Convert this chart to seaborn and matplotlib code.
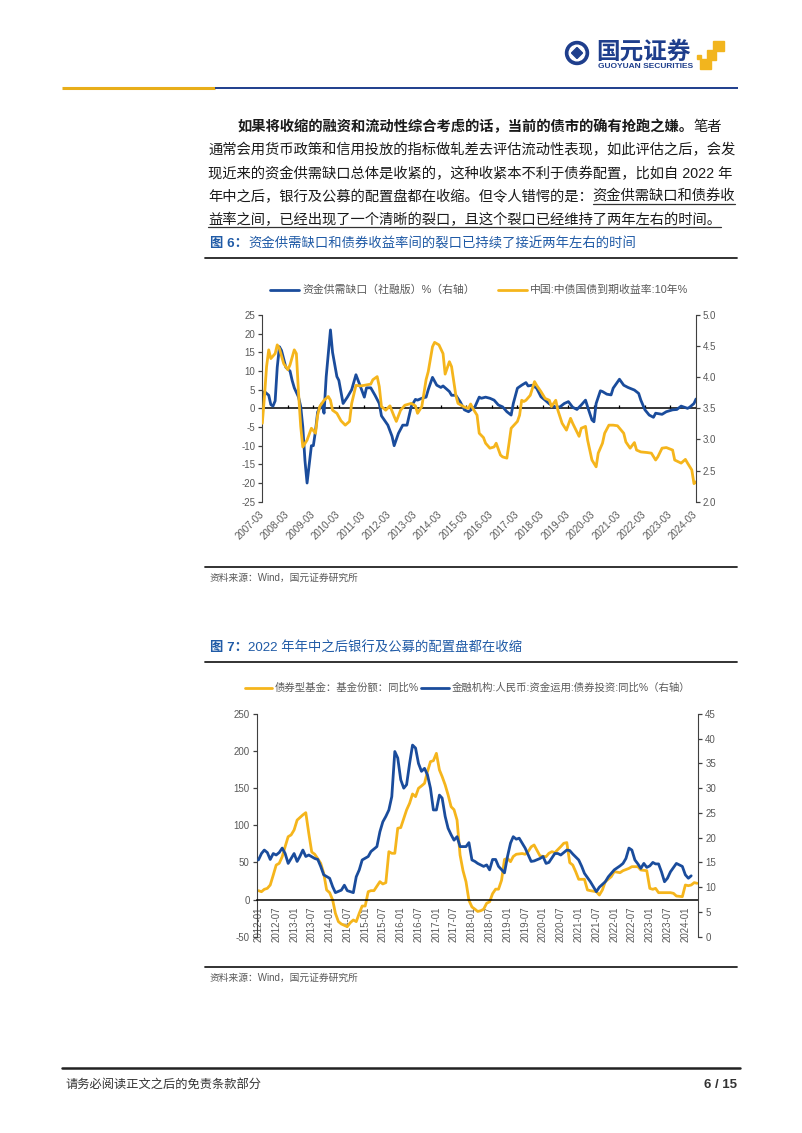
import numpy as np
import pandas as pd
import matplotlib
matplotlib.use('Agg')
import matplotlib.pyplot as plt
import seaborn as sns
from matplotlib.patches import Circle, Rectangle, Polygon

# =========================================
# DATA
# =========================================

# chart 1: funding gap (left axis) and 10y CGB yield (right axis)
gap_dates = [
    '2007-03', '2007-04', '2007-06', '2007-07', '2007-08', '2007-09', '2007-10', '2007-11', '2007-12',
    '2008-02', '2008-04', '2008-05', '2008-06', '2008-08', '2008-09', '2008-10', '2008-11', '2008-12',
    '2009-01', '2009-02', '2009-03', '2009-04', '2009-05', '2009-07', '2009-08', '2009-09', '2009-11',
    '2009-12', '2010-02', '2010-03', '2010-05', '2010-07', '2010-09', '2010-11', '2011-01', '2011-03',
    '2011-04', '2011-06', '2011-08', '2011-10', '2011-11', '2012-02', '2012-04', '2012-05', '2012-07',
    '2012-09', '2012-11', '2013-01', '2013-03', '2013-04', '2013-06', '2013-08', '2013-09', '2013-11',
    '2014-01', '2014-03', '2014-04', '2014-07', '2014-08', '2014-10', '2014-12', '2015-02', '2015-04',
    '2015-06', '2015-07', '2015-09', '2015-10', '2015-12', '2016-02', '2016-04', '2016-06', '2016-08',
    '2016-10', '2016-12', '2017-01', '2017-03', '2017-05', '2017-07', '2017-08', '2017-10', '2017-12',
    '2018-02', '2018-04', '2018-06', '2018-09', '2018-11', '2019-01', '2019-03', '2019-05', '2019-07',
    '2019-09', '2019-11', '2019-12', '2020-02', '2020-03', '2020-04', '2020-06', '2020-07', '2020-09',
    '2020-11', '2020-12', '2021-03', '2021-05', '2021-07', '2021-10', '2021-12', '2022-01', '2022-03',
    '2022-05', '2022-07', '2022-08', '2022-11', '2023-01', '2023-04', '2023-06', '2023-08', '2023-11',
    '2023-12', '2024-02', '2024-03',
]
gap_values = [
    3, 4.5, 3.5, 1, 0.6, 2, 11, 16.5, 15.5,
    11, 10, 7.5, 5.5, 3, 0.5, -5, -14, -20,
    -15, -10, -10, -6, -1, 1.3, -1.3, 8.5, 21,
    15, 8.5, 7.5, 1.3, 3, 5, 9, 6, 3,
    5.5, 5.5, 3.5, 1.3, -2, -4.5, -7.5, -10, -6.7,
    -4.5, -4.5, 0.5, 2.4, 2.2, 2.7, 3, 5, 8.3,
    6.2, 5.6, 6, 4.5, 3.5, 3.5, 1.8, -0.4, -0.9,
    0, 0.4, 3, 2.7, 3, 2.7, 2.2, 0.9, 0.4,
    -0.9, -1.8, 1.3, 5.4, 6.2, 6.9, 6, 6.2, 5.4,
    3.1, 2.2, 1.2, 0.3, 0.4, 1.3, 1.8, 0.3, -0.3,
    0.9, 2.2, 0.4, -3.1, -3.6, 1.3, 4.7, 4.5, 3.8,
    3.6, 5.4, 7.8, 6.2, 5.6, 4.9, 4, 2.2, -0.4,
    -1.8, -2.4, -1.3, -1.6, -0.9, -0.4, -0.3, 0.6, 0,
    0.3, 1.3, 2.5,
]

yield_dates = [
    '2007-03', '2007-04', '2007-05', '2007-06', '2007-07', '2007-09', '2007-10', '2007-11', '2008-01',
    '2008-03', '2008-04', '2008-06', '2008-07', '2008-08', '2008-09', '2008-10', '2008-12', '2009-02',
    '2009-04', '2009-05', '2009-06', '2009-08', '2009-10', '2009-11', '2009-12', '2010-02', '2010-04',
    '2010-06', '2010-08', '2010-09', '2010-11', '2011-01', '2011-03', '2011-06', '2011-07', '2011-09',
    '2011-10', '2011-11', '2012-01', '2012-03', '2012-05', '2012-06', '2012-08', '2012-10', '2013-01',
    '2013-03', '2013-04', '2013-06', '2013-08', '2013-09', '2013-11', '2013-12', '2014-02', '2014-04',
    '2014-05', '2014-07', '2014-08', '2014-10', '2014-11', '2015-02', '2015-04', '2015-05', '2015-06',
    '2015-08', '2015-09', '2015-11', '2015-12', '2016-02', '2016-04', '2016-05', '2016-07', '2016-08',
    '2016-10', '2016-11', '2016-12', '2017-03', '2017-04', '2017-05', '2017-06', '2017-07', '2017-09',
    '2017-11', '2017-12', '2018-02', '2018-04', '2018-06', '2018-07', '2018-09', '2018-10', '2018-12',
    '2019-02', '2019-04', '2019-05', '2019-08', '2019-09', '2019-11', '2019-12', '2020-02', '2020-04',
    '2020-05', '2020-07', '2020-08', '2020-10', '2020-12', '2021-02', '2021-05', '2021-06', '2021-08',
    '2021-10', '2021-11', '2022-01', '2022-04', '2022-06', '2022-08', '2022-09', '2022-11', '2023-01',
    '2023-04', '2023-05', '2023-08', '2023-10', '2023-11', '2024-01', '2024-02', '2024-03',
]
yield_values = [
    3.26, 3.69, 4.17, 4.44, 4.30, 4.38, 4.52, 4.46, 4.22,
    4.12, 4.20, 4.44, 4.38, 3.74, 3.21, 2.88, 2.99, 3.18,
    3.10, 3.39, 3.53, 3.63, 3.69, 3.63, 3.47, 3.42, 3.30,
    3.23, 3.29, 3.58, 3.87, 3.86, 3.87, 3.89, 3.96, 4.01,
    3.85, 3.53, 3.47, 3.54, 3.37, 3.29, 3.47, 3.55, 3.58,
    3.54, 3.42, 3.53, 3.96, 4.09, 4.49, 4.56, 4.52, 4.38,
    4.05, 4.25, 4.17, 3.71, 3.58, 3.52, 3.50, 3.57, 3.50,
    3.39, 3.10, 3.03, 2.94, 2.86, 2.88, 2.94, 2.75, 2.72,
    2.70, 2.94, 3.18, 3.29, 3.39, 3.63, 3.61, 3.63, 3.71,
    3.93, 3.87, 3.77, 3.66, 3.63, 3.53, 3.63, 3.47, 3.26,
    3.15, 3.34, 3.26, 3.05, 3.18, 3.21, 2.99, 2.67, 2.56,
    2.78, 2.94, 3.10, 3.23, 3.23, 3.22, 3.10, 2.96, 2.86,
    2.95, 2.83, 2.80, 2.79, 2.78, 2.67, 2.72, 2.86, 2.87,
    2.83, 2.67, 2.62, 2.68, 2.62, 2.51, 2.29, 2.32,
]

chart1_ticks = [
    '2007-03', '2008-03', '2009-03', '2010-03', '2011-03', '2012-03', '2013-03', '2014-03', '2015-03',
    '2016-03', '2017-03', '2018-03', '2019-03', '2020-03', '2021-03', '2022-03', '2023-03', '2024-03',
]

# chart 2: bond fund shares yoy (left axis) and bank bond investment yoy (right axis)
fund_dates = [
    '2012-01', '2012-02', '2012-03', '2012-04', '2012-05', '2012-06', '2012-07', '2012-08', '2012-09',
    '2012-10', '2012-11', '2012-12', '2013-01', '2013-02', '2013-04', '2013-05', '2013-06', '2013-07',
    '2013-08', '2013-09', '2013-10', '2013-11', '2013-12', '2014-01', '2014-02', '2014-03', '2014-04',
    '2014-05', '2014-07', '2014-08', '2014-09', '2014-10', '2014-11', '2014-12', '2015-01', '2015-02',
    '2015-03', '2015-04', '2015-06', '2015-07', '2015-08', '2015-09', '2015-10', '2015-11', '2015-12',
    '2016-01', '2016-03', '2016-04', '2016-05', '2016-06', '2016-07', '2016-08', '2016-09', '2016-10',
    '2016-11', '2016-12', '2017-01', '2017-02', '2017-03', '2017-04', '2017-05', '2017-06', '2017-07',
    '2017-08', '2017-09', '2017-10', '2017-11', '2017-12', '2018-01', '2018-02', '2018-03', '2018-04',
    '2018-05', '2018-06', '2018-07', '2018-08', '2018-09', '2018-10', '2018-11', '2018-12', '2019-01',
    '2019-02', '2019-03', '2019-04', '2019-06', '2019-07', '2019-08', '2019-09', '2019-10', '2019-12',
    '2020-02', '2020-03', '2020-04', '2020-05', '2020-07', '2020-08', '2020-09', '2020-10', '2020-11',
    '2020-12', '2021-01', '2021-03', '2021-04', '2021-05', '2021-07', '2021-08', '2021-09', '2021-10',
    '2021-12', '2022-01', '2022-03', '2022-04', '2022-06', '2022-07', '2022-09', '2022-10', '2022-12',
    '2023-01', '2023-02', '2023-03', '2023-04', '2023-06', '2023-08', '2023-09', '2023-10', '2023-12',
    '2024-01', '2024-02', '2024-03', '2024-04', '2024-05',
]
fund_values = [
    12, 10.6, 13.8, 15.1, 19.6, 33, 46.5, 48.8, 57.8,
    71.3, 84.7, 87, 93.7, 107, 114, 117, 89, 64,
    61, 55, 48.8, 35.4, 12.9, 9.3, -0.6, -18.5, -29.7,
    -32.9, -36.5, -31.1, -27.5, -29.7, -18.5, -8.7, -8.7, 10.6,
    12, 12, 24.1, 21, 22.8, 64.5, 62.3, 62.3, 96,
    96.9, 120.7, 129.7, 142.2, 138.6, 149.8, 153, 156.5, 172.2,
    185.7, 187, 196.9, 174.6, 165.6, 154.4, 141, 125, 121,
    107, 60, 39, 24, -1, -10, -13, -16, -15,
    -13, -5, -3, 8, 14, 14, 26, 54, 55.5,
    51, 58, 61, 62, 61, 64.5, 71, 73.5, 58.7,
    57.8, 62.3, 64.5, 63.2, 71.3, 75.8, 76.7, 49.7, 46.5,
    37.6, 27.3, 27.3, 12.9, 12, 10.6, 6.1, 12.9, 24.1,
    30.8, 37.6, 36.2, 38.9, 42, 44.3, 44.3, 39.8, 38.9,
    15.1, 13.8, 15.1, 9.3, 9.3, 9.3, 8.4, 4.8, 3.9,
    19.6, 18.7, 19.6, 22.8, 21.9,
]

bank_dates = [
    '2012-01', '2012-02', '2012-03', '2012-04', '2012-05', '2012-06', '2012-07', '2012-08', '2012-09',
    '2012-10', '2012-11', '2012-12', '2013-01', '2013-02', '2013-03', '2013-04', '2013-05', '2013-06',
    '2013-08', '2013-09', '2013-10', '2013-11', '2014-01', '2014-02', '2014-03', '2014-05', '2014-06',
    '2014-07', '2014-09', '2014-10', '2014-11', '2014-12', '2015-02', '2015-03', '2015-05', '2015-06',
    '2015-07', '2015-08', '2015-09', '2015-10', '2015-11', '2015-12', '2016-01', '2016-02', '2016-03',
    '2016-04', '2016-05', '2016-06', '2016-07', '2016-08', '2016-09', '2016-10', '2016-11', '2016-12',
    '2017-01', '2017-02', '2017-03', '2017-04', '2017-05', '2017-06', '2017-07', '2017-08', '2017-09',
    '2017-10', '2017-11', '2017-12', '2018-01', '2018-02', '2018-03', '2018-05', '2018-06', '2018-07',
    '2018-08', '2018-09', '2018-10', '2018-12', '2019-01', '2019-02', '2019-03', '2019-04', '2019-05',
    '2019-06', '2019-07', '2019-09', '2019-10', '2019-12', '2020-01', '2020-02', '2020-03', '2020-05',
    '2020-06', '2020-07', '2020-09', '2020-10', '2020-11', '2021-01', '2021-02', '2021-03', '2021-05',
    '2021-07', '2021-08', '2021-10', '2021-11', '2022-01', '2022-03', '2022-04', '2022-05', '2022-06',
    '2022-07', '2022-08', '2022-09', '2022-10', '2022-11', '2022-12', '2023-01', '2023-02', '2023-03',
    '2023-04', '2023-05', '2023-06', '2023-07', '2023-08', '2023-10', '2023-11', '2023-12', '2024-01',
    '2024-02', '2024-03',
]
bank_values = [
    15.5, 16.8, 17.5, 17.0, 15.6, 16.8, 16.5, 17.0, 17.9,
    16.8, 14.8, 15.8, 16.8, 15.2, 16.2, 17.5, 16.2, 16.5,
    15.8, 15.6, 14.2, 12.5, 11.8, 10.1, 8.9, 9.4, 10.4,
    9.3, 8.9, 12.1, 13.5, 15.5, 16.2, 17.2, 18.2, 21.2,
    23.2, 24.3, 25.6, 28.3, 37.4, 36.1, 31.7, 30.0, 30.7,
    35.0, 38.7, 38.1, 35.0, 33.4, 34.0, 32.7, 30.0, 25.6,
    25.6, 28.6, 28.0, 24.3, 21.9, 20.6, 19.5, 20.2, 18.2,
    18.2, 18.2, 19.0, 15.5, 15.2, 14.8, 14.2, 14.5, 13.5,
    15.6, 15.6, 14.2, 12.9, 16.2, 18.9, 20.2, 19.7, 19.9,
    18.9, 17.9, 15.2, 15.3, 15.8, 16.2, 14.8, 15.0, 16.8,
    16.8, 16.5, 17.5, 17.4, 16.7, 15.5, 14.2, 12.8, 11.1,
    9.1, 10.0, 11.1, 12.1, 13.5, 14.3, 14.8, 15.8, 17.9,
    17.5, 15.5, 14.7, 13.8, 14.8, 14.0, 14.3, 15.0, 14.7,
    14.7, 13.1, 11.1, 11.8, 13.1, 14.8, 14.5, 14.2, 12.5,
    11.8, 12.3,
]

chart2_ticks = [
    '2012-01', '2012-07', '2013-01', '2013-07', '2014-01', '2014-07', '2015-01', '2015-07', '2016-01',
    '2016-07', '2017-01', '2017-07', '2018-01', '2018-07', '2019-01', '2019-07', '2020-01', '2020-07',
    '2021-01', '2021-07', '2022-01', '2022-07', '2023-01', '2023-07', '2024-01',
]

# =========================================
# TEXT
# =========================================

para_lines = [
    '通常会用货币政策和信用投放的指标做轧差去评估流动性表现，如此评估之后，会发',
    '现近来的资金供需缺口总体是收紧的，这种收紧本不利于债券配置，比如自 2022 年',
]
para_bold = '如果将收缩的融资和流动性综合考虑的话，当前的债市的确有抢跑之嫌。'
para_tail = '笔者'
para_line4 = '年中之后，银行及公募的配置盘都在收缩。但令人错愕的是：'
para_line4_ul = '资金供需缺口和债券收'
para_line5 = '益率之间，已经出现了一个清晰的裂口，且这个裂口已经维持了两年左右的时间。'

title6 = '资金供需缺口和债券收益率间的裂口已持续了接近两年左右的时间'
title7 = '2022 年年中之后银行及公募的配置盘都在收缩'
legend1 = ['资金供需缺口（社融版）%（右轴）', '中国:中债国债到期收益率:10年%']
legend2 = ['债券型基金：基金份额：同比%', '金融机构:人民币:资金运用:债券投资:同比%（右轴）']
source = '资料来源：Wind，国元证券研究所'

# =========================================
# STYLE
# =========================================

sns.set_style('white')
plt.rcParams['font.family'] = ['Liberation Sans', 'Noto Sans CJK SC', 'DejaVu Sans']
plt.rcParams['axes.unicode_minus'] = False

BLUE = '#1A4C9C'
GOLD = '#F5B51C'
TITLE_BLUE = '#1F5AA6'
LOGO_BLUE = '#1E3E8C'
GRAY = '#595959'
AXIS = '#404040'

W, H = 802, 1133

fig = plt.figure(figsize=(W / 100, H / 100), dpi=100)

page = fig.add_axes([0, 0, 1, 1])
page.set_xlim(0, W)
page.set_ylim(H, 0)
page.axis('off')


def box(left, top, right, bottom):
    return [left / W, 1 - bottom / H, (right - left) / W, (bottom - top) / H]


# =========================================
# HEADER
# =========================================

page.add_patch(Circle((577, 53), 11.5, color=LOGO_BLUE))
page.add_patch(Circle((577, 53), 7.8, color='white'))
page.add_patch(Polygon([(577, 47.5), (582.5, 53), (577, 58.5), (571.5, 53)], color=LOGO_BLUE))
page.text(596, 52, '国元证券', fontsize=17, fontweight='bold', color=LOGO_BLUE,
          ha='left', va='center')
page.text(597.5, 66.5, 'GUOYUAN SECURITIES', fontsize=6, fontweight='bold',
          color=LOGO_BLUE, ha='left', va='center')
for x, y, s in [(713, 40.5, 10.5), (706.5, 50, 9.5), (700, 58.5, 10.5), (696.5, 54.5, 4)]:
    page.add_patch(Rectangle((x, y), s, s, color='#F2B51E'))

page.plot([62, 215], [88, 88], color='#E8AE1A', lw=2.2, solid_capstyle='butt')
page.plot([215, 738], [88, 88], color=LOGO_BLUE, lw=1.4, solid_capstyle='butt')

# =========================================
# PARAGRAPH
# =========================================

body = dict(fontsize=10.3, color='#1A1A1A', va='center', ha='left')

t1 = page.text(237, 127, para_bold, fontweight='bold', **body)
page.annotate(para_tail, xy=(1, 0.5), xycoords=t1, **body)
page.text(208, 150.5, para_lines[0], **body)
page.text(208, 174, para_lines[1], **body)
t4 = page.text(208, 197, para_line4, **body)
t4u = page.annotate(para_line4_ul, xy=(1, 0.5), xycoords=t4, **body)
t5 = page.text(208, 220, para_line5, **body)

# =========================================
# FIGURE TITLES, SOURCES, FOOTER
# =========================================

def fig_title(y, num, text):
    head = page.text(210, y, f'图 {num}：', fontsize=9.6, fontweight='bold',
                     color=TITLE_BLUE, ha='left', va='center')
    page.annotate(text, xy=(1, 0.5), xycoords=head, fontsize=9.6,
                  color=TITLE_BLUE, ha='left', va='center')
    page.plot([205, 737], [y + 14, y + 14], color='#222222', lw=1.3)


fig_title(244, 6, title6)
fig_title(648, 7, title7)

for y in [567, 967]:
    page.plot([205, 737], [y, y], color='#222222', lw=1.3)
    page.text(210, y + 11, source, fontsize=7, color=GRAY, ha='left', va='center')

page.plot([62, 740], [1068, 1068], color='#222222', lw=1.8)
page.text(65, 1085, '请务必阅读正文之后的免责条款部分', fontsize=8.8, color='#333333',
          ha='left', va='center')
page.text(737, 1085, '6 / 15', fontsize=9.5, fontweight='bold', color='#333333',
          ha='right', va='center')

# legends drawn on the page
leg = dict(fontsize=7.8, color=GRAY, ha='left', va='center')
page.plot([270, 299], [290, 290], color=BLUE, lw=2)
page.text(302, 290, legend1[0], **leg)
page.plot([498, 527], [290, 290], color=GOLD, lw=2)
page.text(530, 290, legend1[1], **leg)

leg2 = dict(leg, fontsize=7.5)
page.plot([245, 272], [688, 688], color=GOLD, lw=2)
page.text(275, 688, legend2[0], **leg2)
page.plot([421, 449], [688, 688], color=BLUE, lw=2)
page.text(452, 688, legend2[1], **leg2)

# =========================================
# CHART 1
# =========================================

ax1 = fig.add_axes(box(262.3, 315, 696, 501.7))
ax1b = ax1.twinx()

ax1.axhline(0, color='black', lw=1.1, zorder=1)

sns.lineplot(x=pd.to_datetime(gap_dates), y=gap_values, ax=ax1,
             color=BLUE, lw=2, legend=False)
sns.lineplot(x=pd.to_datetime(yield_dates), y=yield_values, ax=ax1b,
             color=GOLD, lw=2, legend=False)

ticks1 = pd.to_datetime(chart1_ticks)
ax1.vlines(ticks1, 0, 0.8, color='black', lw=0.9, zorder=1)

ax1.set_xlim(ticks1[0], ticks1[-1])
ax1.set_ylim(-25, 25)
ax1.set_yticks(range(-25, 26, 5))
ax1b.set_ylim(2, 5)
ax1b.set_yticks(np.arange(2, 5.01, 0.5))
ax1b.set_yticklabels([f'{v:.1f}' for v in np.arange(2, 5.01, 0.5)])

ax1.set_xticks(ticks1)
ax1.set_xticklabels(chart1_ticks, rotation=45, ha='right', va='center',
                    rotation_mode='anchor')
ax1.tick_params(axis='x', length=0, pad=8, labelsize=7, labelcolor=GRAY)

for a in (ax1, ax1b):
    a.set_xlabel('')
    a.set_ylabel('')
    a.set_facecolor('none')
    for s in a.spines.values():
        s.set_visible(False)
    a.tick_params(axis='y', direction='out', length=3, width=0.9,
                  color=AXIS, labelsize=7, labelcolor=GRAY, pad=2)
ax1.spines['left'].set_visible(True)
ax1b.spines['right'].set_visible(True)
ax1.spines['left'].set_color(AXIS)
ax1b.spines['right'].set_color(AXIS)

# =========================================
# CHART 2
# =========================================

ax2 = fig.add_axes(box(256.7, 713.9, 698.3, 936.7))
ax2b = ax2.twinx()

sns.lineplot(x=pd.to_datetime(fund_dates), y=fund_values, ax=ax2,
             color=GOLD, lw=2, legend=False)
sns.lineplot(x=pd.to_datetime(bank_dates), y=bank_values, ax=ax2b,
             color=BLUE, lw=2, legend=False)

for a in (ax2, ax2b):
    a.set_xlabel('')
    a.set_ylabel('')
    a.set_facecolor('none')
    for s in a.spines.values():
        s.set_visible(False)
ax2.spines['left'].set_visible(True)
ax2.spines['left'].set_color(AXIS)
ax2b.spines['right'].set_visible(True)
ax2b.spines['right'].set_color(AXIS)
ax2.spines['bottom'].set_visible(True)
ax2.spines['bottom'].set_color('black')
ax2.spines['bottom'].set_linewidth(1.1)
# moving the spine resets the ticks, so do it before styling them
ax2.spines['bottom'].set_position(('data', 0))

ticks2 = pd.to_datetime(chart2_ticks)
ax2.set_xlim(pd.Timestamp('2011-12-14'), pd.Timestamp('2024-05-13'))
ax2.set_ylim(-50, 250)
ax2.set_yticks(range(-50, 251, 50))
ax2b.set_ylim(0, 45)
ax2b.set_yticks(range(0, 46, 5))

ax2.set_xticks(ticks2)
ax2.set_xticklabels(chart2_ticks, rotation=90, ha='center', va='top')
ax2.tick_params(axis='x', direction='out', length=3, width=0.9, color='black',
                pad=2, labelsize=7, labelcolor=GRAY)
for a in (ax2, ax2b):
    a.tick_params(axis='y', direction='out', length=3, width=0.9,
                  color=AXIS, labelsize=7, labelcolor=GRAY, pad=2)

# =========================================
# UNDERLINES (need text extents)
# =========================================

fig.canvas.draw()
inv = page.transData.inverted()
for t, y in [(t4u, 204), (t5, 227)]:
    bb = t.get_window_extent()
    (xa, _), (xb, _) = inv.transform([[bb.x0, bb.y0], [bb.x1, bb.y0]])
    page.plot([xa, xb], [y, y], color='#333333', lw=0.9)

fig.savefig('out.png', dpi=100)
plt.close(fig)
